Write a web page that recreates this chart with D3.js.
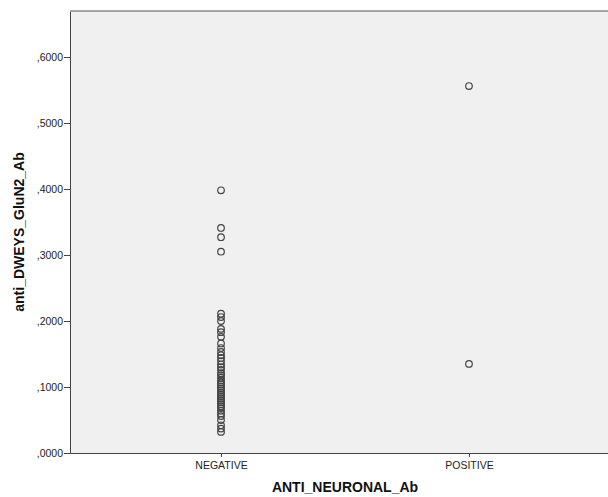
<!DOCTYPE html>
<meta charset="utf-8">
<style>
body { margin: 0; background: #fff; }
svg { display: block; }
.axis text { font: 10.5px "Liberation Sans", Arial, sans-serif; fill: #222; }
.axis path, .axis line { stroke: #444; shape-rendering: crispEdges; }
.title { font: bold 14px "Liberation Sans", Arial, sans-serif; fill: #111; }
</style>
<body>
<div id="chart"></div>
<script src="https://cdn.jsdelivr.net/npm/d3@7"></script>
<script>
var categories = ["NEGATIVE", "POSITIVE"];
var negativeValues = [0.398, 0.341, 0.327, 0.305, 0.211, 0.206, 0.200, 0.188, 0.183, 0.176,
  0.166, 0.159, 0.153, 0.148, 0.144, 0.139, 0.134, 0.130, 0.126, 0.121, 0.118, 0.114,
  0.110, 0.107, 0.104, 0.101, 0.098, 0.095, 0.092, 0.089, 0.086, 0.083, 0.080, 0.077,
  0.074, 0.071, 0.068, 0.064, 0.060, 0.056, 0.050, 0.042, 0.037, 0.032];
var positiveValues = [0.556, 0.135];
var yTicks = [0, 0.1, 0.2, 0.3, 0.4, 0.5, 0.6];

var points = [];
negativeValues.forEach(function(v) { points.push({cat: "NEGATIVE", val: v}); });
positiveValues.forEach(function(v) { points.push({cat: "POSITIVE", val: v}); });

var W = 608, H = 497,
    margin = {top: 11, left: 70, bottom: 44},
    width = 550,
    height = H - margin.top - margin.bottom;

var svg = d3.select("#chart").append("svg")
  .attr("width", W).attr("height", H);

var g = svg.append("g")
  .attr("transform", "translate(" + margin.left + "," + margin.top + ")");

var xScale = d3.scalePoint().domain(categories).range([0, width]).padding(0.609);
var yScale = d3.scaleLinear().domain([0, 0.6697]).range([height, 0]);

g.append("rect")
  .attr("width", width).attr("height", height)
  .attr("fill", "#f0f0f0");

// top frame line
g.append("line")
  .attr("x1", 0).attr("x2", width).attr("y1", 0).attr("y2", 0)
  .attr("stroke", "#888").attr("stroke-width", 1.5);

var fmt = function(d) { return "," + d3.format(".4f")(d).split(".")[1]; };

g.append("g")
  .attr("class", "axis")
  .call(d3.axisLeft(yScale).tickValues(yTicks).tickFormat(fmt).tickSize(6).tickSizeOuter(0))
  .call(function(a) {
    a.select(".domain").attr("stroke-width", 1.5);
    a.selectAll("text").attr("x", -7);
  });

g.append("g")
  .attr("class", "axis")
  .attr("transform", "translate(0," + height + ")")
  .call(d3.axisBottom(xScale).tickSize(4).tickSizeOuter(0))
  .call(function(a) {
    a.select(".domain").attr("stroke-width", 1.5);
    a.selectAll("text").attr("dy", "0.85em");
  });

g.selectAll("circle.pt")
  .data(points)
  .enter().append("circle")
  .attr("class", "pt")
  .attr("cx", function(d) { return xScale(d.cat); })
  .attr("cy", function(d) { return yScale(d.val); })
  .attr("r", 3.3)
  .attr("fill", "none")
  .attr("stroke", "#444")
  .attr("stroke-width", 1.2);

svg.append("text")
  .attr("class", "title")
  .attr("text-anchor", "middle")
  .attr("x", margin.left + width / 2)
  .attr("y", H - 5)
  .text("ANTI_NEURONAL_Ab");

svg.append("text")
  .attr("class", "title")
  .attr("text-anchor", "middle")
  .attr("transform", "translate(24," + (margin.top + height / 2) + ") rotate(-90)")
  .text("anti_DWEYS_GluN2_Ab");
</script>
</body>
